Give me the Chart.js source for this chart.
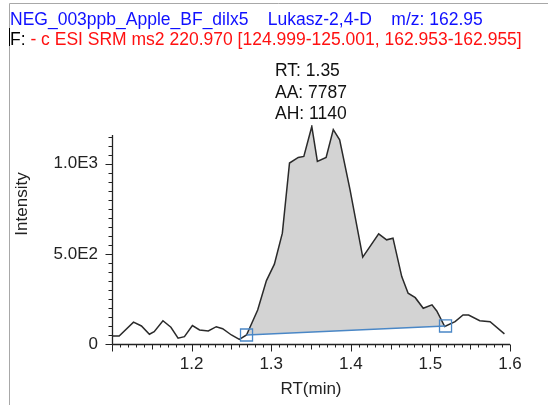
<!DOCTYPE html>
<html>
<head>
<meta charset="utf-8">
<script src="https://cdn.jsdelivr.net/npm/chart.js@4.4.1/dist/chart.umd.min.js"></script>
<style>
  html, body { margin: 0; padding: 0; background: #fff; }
  #wrap { width: 548px; height: 405px; position: relative; }
</style>
</head>
<body>
<div id="wrap"><canvas id="chromChart" width="548" height="405"></canvas></div>
<script>
// chromatogram trace (RT in min, intensity)
const rtValues = [1.100, 1.109, 1.127, 1.137, 1.147, 1.153, 1.164, 1.174, 1.183, 1.191,
  1.201, 1.210, 1.221, 1.231, 1.239, 1.250, 1.260, 1.269, 1.283, 1.294,
  1.304, 1.314, 1.323, 1.334, 1.341, 1.351, 1.358, 1.369, 1.378, 1.386,
  1.399, 1.415, 1.435, 1.445, 1.453, 1.464, 1.472, 1.481, 1.491, 1.502,
  1.508, 1.518, 1.531, 1.541, 1.548, 1.562, 1.575, 1.593];
const intensityValues = [44, 44, 121, 100, 54, 68, 129, 93, 32, 41,
  102, 78, 72, 96, 85, 50, 26, 50, 189, 352,
  443, 615, 1004, 1035, 1041, 1207, 1013, 1035, 1189, 1133,
  856, 482, 611, 578, 587, 374, 282, 257, 198, 217,
  183, 97, 124, 161, 161, 129, 124, 56];

// integration baseline (start / end markers)
const baselineRT = [1.269, 1.519];
const baselineIntensity = [50, 100];

const yTickValues = [0, 500, 1000];
const yTickLabels = ['0', '5.0E2', '1.0E3'];
const headerLine1 = 'NEG_003ppb_Apple_BF_dilx5    Lukasz-2,4-D    m/z: 162.95';
const headerFilter = 'F:';
const headerLine2 = ' - c ESI SRM ms2 220.970 [124.999-125.001, 162.953-162.955]';
const peakLabels = ['RT: 1.35', 'AA: 7787', 'AH: 1140'];

const FONT = '"Liberation Sans", Arial, sans-serif';

const tracePoints = rtValues.map((x, i) => ({ x, y: intensityValues[i] }));
const peakPoints = tracePoints.filter(p => p.x >= baselineRT[0] && p.x <= baselineRT[1]);
const baselinePoints = baselineRT.map((x, i) => ({ x, y: baselineIntensity[i] }));

const decorPlugin = {
  id: 'decor',
  afterDraw(chart) {
    const ctx = chart.ctx;
    const xs = chart.scales.x;
    const ys = chart.scales.y;
    ctx.save();

    // window frame
    ctx.strokeStyle = '#a8a8a8';
    ctx.lineWidth = 1;
    ctx.beginPath();
    ctx.moveTo(9.5, 405);
    ctx.lineTo(9.5, 3.5);
    ctx.lineTo(548, 3.5);
    ctx.stroke();
    ctx.strokeStyle = '#000';
    ctx.beginPath();
    ctx.moveTo(9.5, 28);
    ctx.lineTo(9.5, 46);
    ctx.stroke();

    // header
    ctx.font = '17.5px ' + FONT;
    ctx.textBaseline = 'alphabetic';
    ctx.textAlign = 'left';
    ctx.fillStyle = '#1010ff';
    ctx.fillText(headerLine1, 10, 24.5);
    ctx.fillStyle = '#000';
    ctx.fillText(headerFilter, 10, 45);
    const fw = ctx.measureText(headerFilter).width;
    ctx.fillStyle = '#ff1010';
    ctx.fillText(headerLine2, 10 + fw, 45);

    // peak annotation
    ctx.fillStyle = '#111';
    peakLabels.forEach((t, i) => ctx.fillText(t, 275, 76 + i * 21.7));

    // y axis title
    ctx.save();
    ctx.translate(27, 204);
    ctx.rotate(-Math.PI / 2);
    ctx.textAlign = 'center';
    ctx.fillStyle = '#222';
    ctx.font = '17px ' + FONT;
    ctx.fillText('Intensity', 0, 0);
    ctx.restore();

    // axis lines
    const x0 = Math.round(xs.left) + 0.5;
    const yb = Math.round(ys.getPixelForValue(0)) + 0.5;
    ctx.strokeStyle = '#222';
    ctx.lineWidth = 1.3;
    ctx.beginPath();
    ctx.moveTo(x0, yb);
    ctx.lineTo(x0, ys.getPixelForValue(1160));
    ctx.moveTo(x0, yb);
    ctx.lineTo(xs.right, yb);
    ctx.stroke();

    // y ticks every 50
    ctx.lineWidth = 1;
    ctx.beginPath();
    for (let v = 0; v <= 1150; v += 50) {
      const py = Math.round(ys.getPixelForValue(v)) + 0.5;
      const len = v % 500 === 0 ? 7 : 4;
      ctx.moveTo(x0 - len, py);
      ctx.lineTo(x0, py);
    }
    // x ticks every 0.01
    for (let k = 110; k <= 160; k++) {
      const px = Math.round(xs.getPixelForValue(k / 100)) + 0.5;
      const len = k % 10 === 0 ? 7 : (k % 5 === 0 ? 5 : 3);
      ctx.moveTo(px, yb);
      ctx.lineTo(px, yb + len);
    }
    ctx.stroke();
    ctx.restore();
  }
};

new Chart(document.getElementById('chromChart'), {
  type: 'line',
  data: {
    datasets: [
      {
        label: 'peak',
        data: peakPoints,
        fill: 1,
        backgroundColor: '#d3d3d3',
        borderWidth: 0,
        pointRadius: 0,
        order: 3
      },
      {
        label: 'baseline',
        data: baselinePoints,
        borderColor: '#4a87c6',
        borderWidth: 1.5,
        pointStyle: 'rect',
        pointRadius: 8.5,
        pointBorderWidth: 1.3,
        pointBorderColor: '#4a87c6',
        pointBackgroundColor: 'rgba(0,0,0,0)',
        fill: false,
        order: 0
      },
      {
        label: 'trace',
        data: tracePoints,
        borderColor: '#2a2a2a',
        borderWidth: 1.5,
        pointRadius: 0,
        fill: false,
        tension: 0,
        order: 1
      }
    ]
  },
  options: {
    responsive: false,
    animation: false,
    layout: { padding: { top: 125, right: 38, left: 0, bottom: 0 } },
    plugins: { legend: { display: false }, tooltip: { enabled: false } },
    scales: {
      x: {
        type: 'linear',
        min: 1.1,
        max: 1.6,
        grid: { display: false, drawTicks: false },
        border: { display: false },
        ticks: {
          stepSize: 0.1,
          includeBounds: false,
          autoSkip: false,
          padding: 10,
          color: '#222',
          font: { family: FONT, size: 17 },
          callback: v => (v < 1.15 ? '' : v.toFixed(1))
        },
        title: {
          display: true,
          text: 'RT(min)',
          color: '#222',
          font: { family: FONT, size: 17 },
          padding: { top: 0, bottom: 5 }
        },
        afterFit: s => { s.height = 61; }
      },
      y: {
        min: 0,
        max: 1215,
        grid: { display: false, drawTicks: false },
        border: { display: false },
        afterBuildTicks: s => { s.ticks = yTickValues.map(v => ({ value: v })); },
        ticks: {
          autoSkip: false,
          padding: 14,
          color: '#222',
          font: { family: FONT, size: 17 },
          callback: v => {
            const i = yTickValues.indexOf(v);
            return i >= 0 ? yTickLabels[i] : '';
          }
        },
        afterFit: s => { s.width = 112; }
      }
    }
  },
  plugins: [decorPlugin]
});
</script>
</body>
</html>
